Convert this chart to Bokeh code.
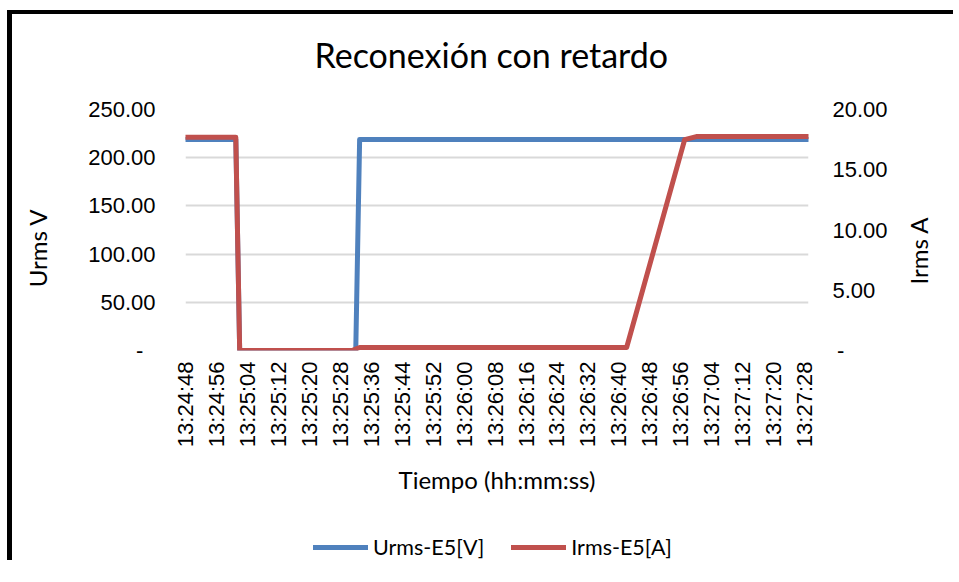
import math
from bokeh.plotting import figure
from bokeh.layouts import column
from bokeh.models import LinearAxis, Range1d, FixedTicker, Legend, LegendItem
from bokeh.embed import file_html
from bokeh.resources import INLINE

# ---------------- data ----------------
urms_times = ["13:24:48", "13:25:01", "13:25:02", "13:25:32", "13:25:33", "13:27:29"]
urms_values = [219.0, 219.0, 0.0, 0.0, 219.0, 219.0]

irms_times = ["13:24:48", "13:25:01", "13:25:02", "13:25:31", "13:25:33",
              "13:26:42", "13:26:57", "13:27:00", "13:27:29"]
irms_values = [17.7, 17.7, 0.0, 0.0, 0.25, 0.25, 17.5, 17.75, 17.75]

x_start, x_end = "13:24:48", "13:27:29"
x_tick_labels = ["13:24:48", "13:24:56", "13:25:04", "13:25:12", "13:25:20",
                 "13:25:28", "13:25:36", "13:25:44", "13:25:52", "13:26:00",
                 "13:26:08", "13:26:16", "13:26:24", "13:26:32", "13:26:40",
                 "13:26:48", "13:26:56", "13:27:04", "13:27:12", "13:27:20",
                 "13:27:28"]

left_ticks = [0, 50, 100, 150, 200, 250]
left_tick_labels = ["-\u2007", "50.00", "100.00", "150.00", "200.00", "250.00"]
right_ticks = [0, 5, 10, 15, 20]
right_tick_labels = ["\u2009-", "5.00", "10.00", "15.00", "20.00"]
left_max, right_max = 250, 20

series_names = ["Urms-E5[V]", "Irms-E5[A]"]


def to_sec(t):
    h, m, s = (int(v) for v in t.split(":"))
    return h * 3600 + m * 60 + s


urms_x = [to_sec(t) for t in urms_times]
irms_x = [to_sec(t) for t in irms_times]

BLUE = "#4F81BD"
RED = "#C0504D"
GRID = "#D9D9D9"
TXT = "#000000"
TICK_FONT = "Liberation Sans"
TEXT_FONT = "Lato"
CANVAS_W = 946

# ---------------- main chart ----------------
p = figure(frame_width=623, frame_height=241,
           output_backend="svg", toolbar_location=None,
           x_range=Range1d(to_sec(x_start), to_sec(x_end)),
           y_range=Range1d(0, left_max),
           min_border_left=173, min_border_right=CANVAS_W - 173 - 623,
           min_border_top=114, min_border_bottom=150,
           title="Reconexión con retardo")
p.styles = {"margin-top": "-19px"}
p.outline_line_color = None
p.background_fill_color = "white"
p.border_fill_alpha = 0

p.title.align = "left"
p.title.offset = 129
p.title.text_font = TEXT_FONT
p.title.text_font_size = "34px"
p.title.text_font_style = "normal"
p.title.text_color = TXT
p.title.standoff = 70

p.extra_y_ranges = {"amp": Range1d(0, right_max)}

# x axis
xa = p.xaxis[0]
xt = [to_sec(t) for t in x_tick_labels]
xa.ticker = FixedTicker(ticks=xt)
xa.major_label_overrides = {k: v for k, v in zip(xt, x_tick_labels)}
xa.major_label_orientation = math.pi / 2
xa.axis_label = "Tiempo (hh:mm:ss)"

# left axis
ya = p.yaxis[0]
ya.ticker = FixedTicker(ticks=left_ticks)
ya.major_label_overrides = {k: v for k, v in zip(left_ticks, left_tick_labels)}
ya.axis_label = "Urms V\u2003\u2003"

# right axis (label reads bottom-to-top like the left one)
ra = LinearAxis(y_range_name="amp")
ra.ticker = FixedTicker(ticks=right_ticks)
ra.major_label_overrides = {k: v for k, v in zip(right_ticks, right_tick_labels)}
ra.axis_label_orientation = math.pi / 2
try:
    ra.axis_label_align = "start"
    ra.axis_label = "\u2003\u2003\u2003\u2002Irms A"
except Exception:
    ra.axis_label = "Irms A"
p.add_layout(ra, "right")

for ax, so, lso in ((xa, 11, 15), (ya, 30, 33), (ra, 24, 28)):
    ax.axis_line_color = None
    ax.major_tick_line_color = None
    ax.minor_tick_line_color = None
    ax.major_tick_out = 0
    ax.minor_tick_out = 0
    ax.major_label_standoff = so
    ax.axis_label_standoff = lso
    ax.major_label_text_font = TICK_FONT
    ax.major_label_text_font_size = "22px"
    ax.major_label_text_color = TXT
    ax.axis_label_text_font = TEXT_FONT
    ax.axis_label_text_font_size = "24px"
    ax.axis_label_text_font_style = "normal"
    ax.axis_label_text_color = TXT

p.xgrid.grid_line_color = None
p.ygrid.grid_line_color = GRID
p.ygrid.grid_line_width = 2
p.ygrid.ticker = FixedTicker(ticks=left_ticks)

p.line(urms_x, urms_values, line_width=5,
       color=BLUE, line_join="round", line_cap="round")
p.line(irms_x, irms_values, line_width=5,
       color=RED, line_join="round", line_cap="round", y_range_name="amp")

# ---------------- legend strip (series drawn out of view, legend only) -------
q = figure(frame_width=CANVAS_W, frame_height=64, output_backend="svg",
           toolbar_location=None, x_axis_location=None, y_axis_location=None,
           x_range=Range1d(0, 1), y_range=Range1d(0, 1), min_border=0)
q.outline_line_color = None
q.grid.visible = False
q.background_fill_color = "white"
q.border_fill_color = "white"
lb = q.line(urms_x, urms_values, line_width=5, color=BLUE, line_cap="round")
lr = q.line(irms_x, irms_values, line_width=5, color=RED, line_cap="round")

legend = Legend(items=[LegendItem(label=series_names[0], renderers=[lb]),
                       LegendItem(label=series_names[1], renderers=[lr])],
                orientation="horizontal", location=(301, 2))
legend.glyph_width = 55
legend.glyph_height = 30
legend.label_height = 30
legend.label_standoff = 5
legend.spacing = 27
legend.padding = 0
legend.margin = 0
legend.border_line_color = None
legend.background_fill_alpha = 0
legend.label_text_font = TEXT_FONT
legend.label_text_font_size = "21.5px"
legend.label_text_color = TXT
q.add_layout(legend, "center")

layout = column(p, q, spacing=0,
                styles={"margin-left": "12px", "margin-top": "14px",
                        "box-shadow": "-5px -4px 0 0 black"})

open("out.html", "w").write(file_html(layout, INLINE))
